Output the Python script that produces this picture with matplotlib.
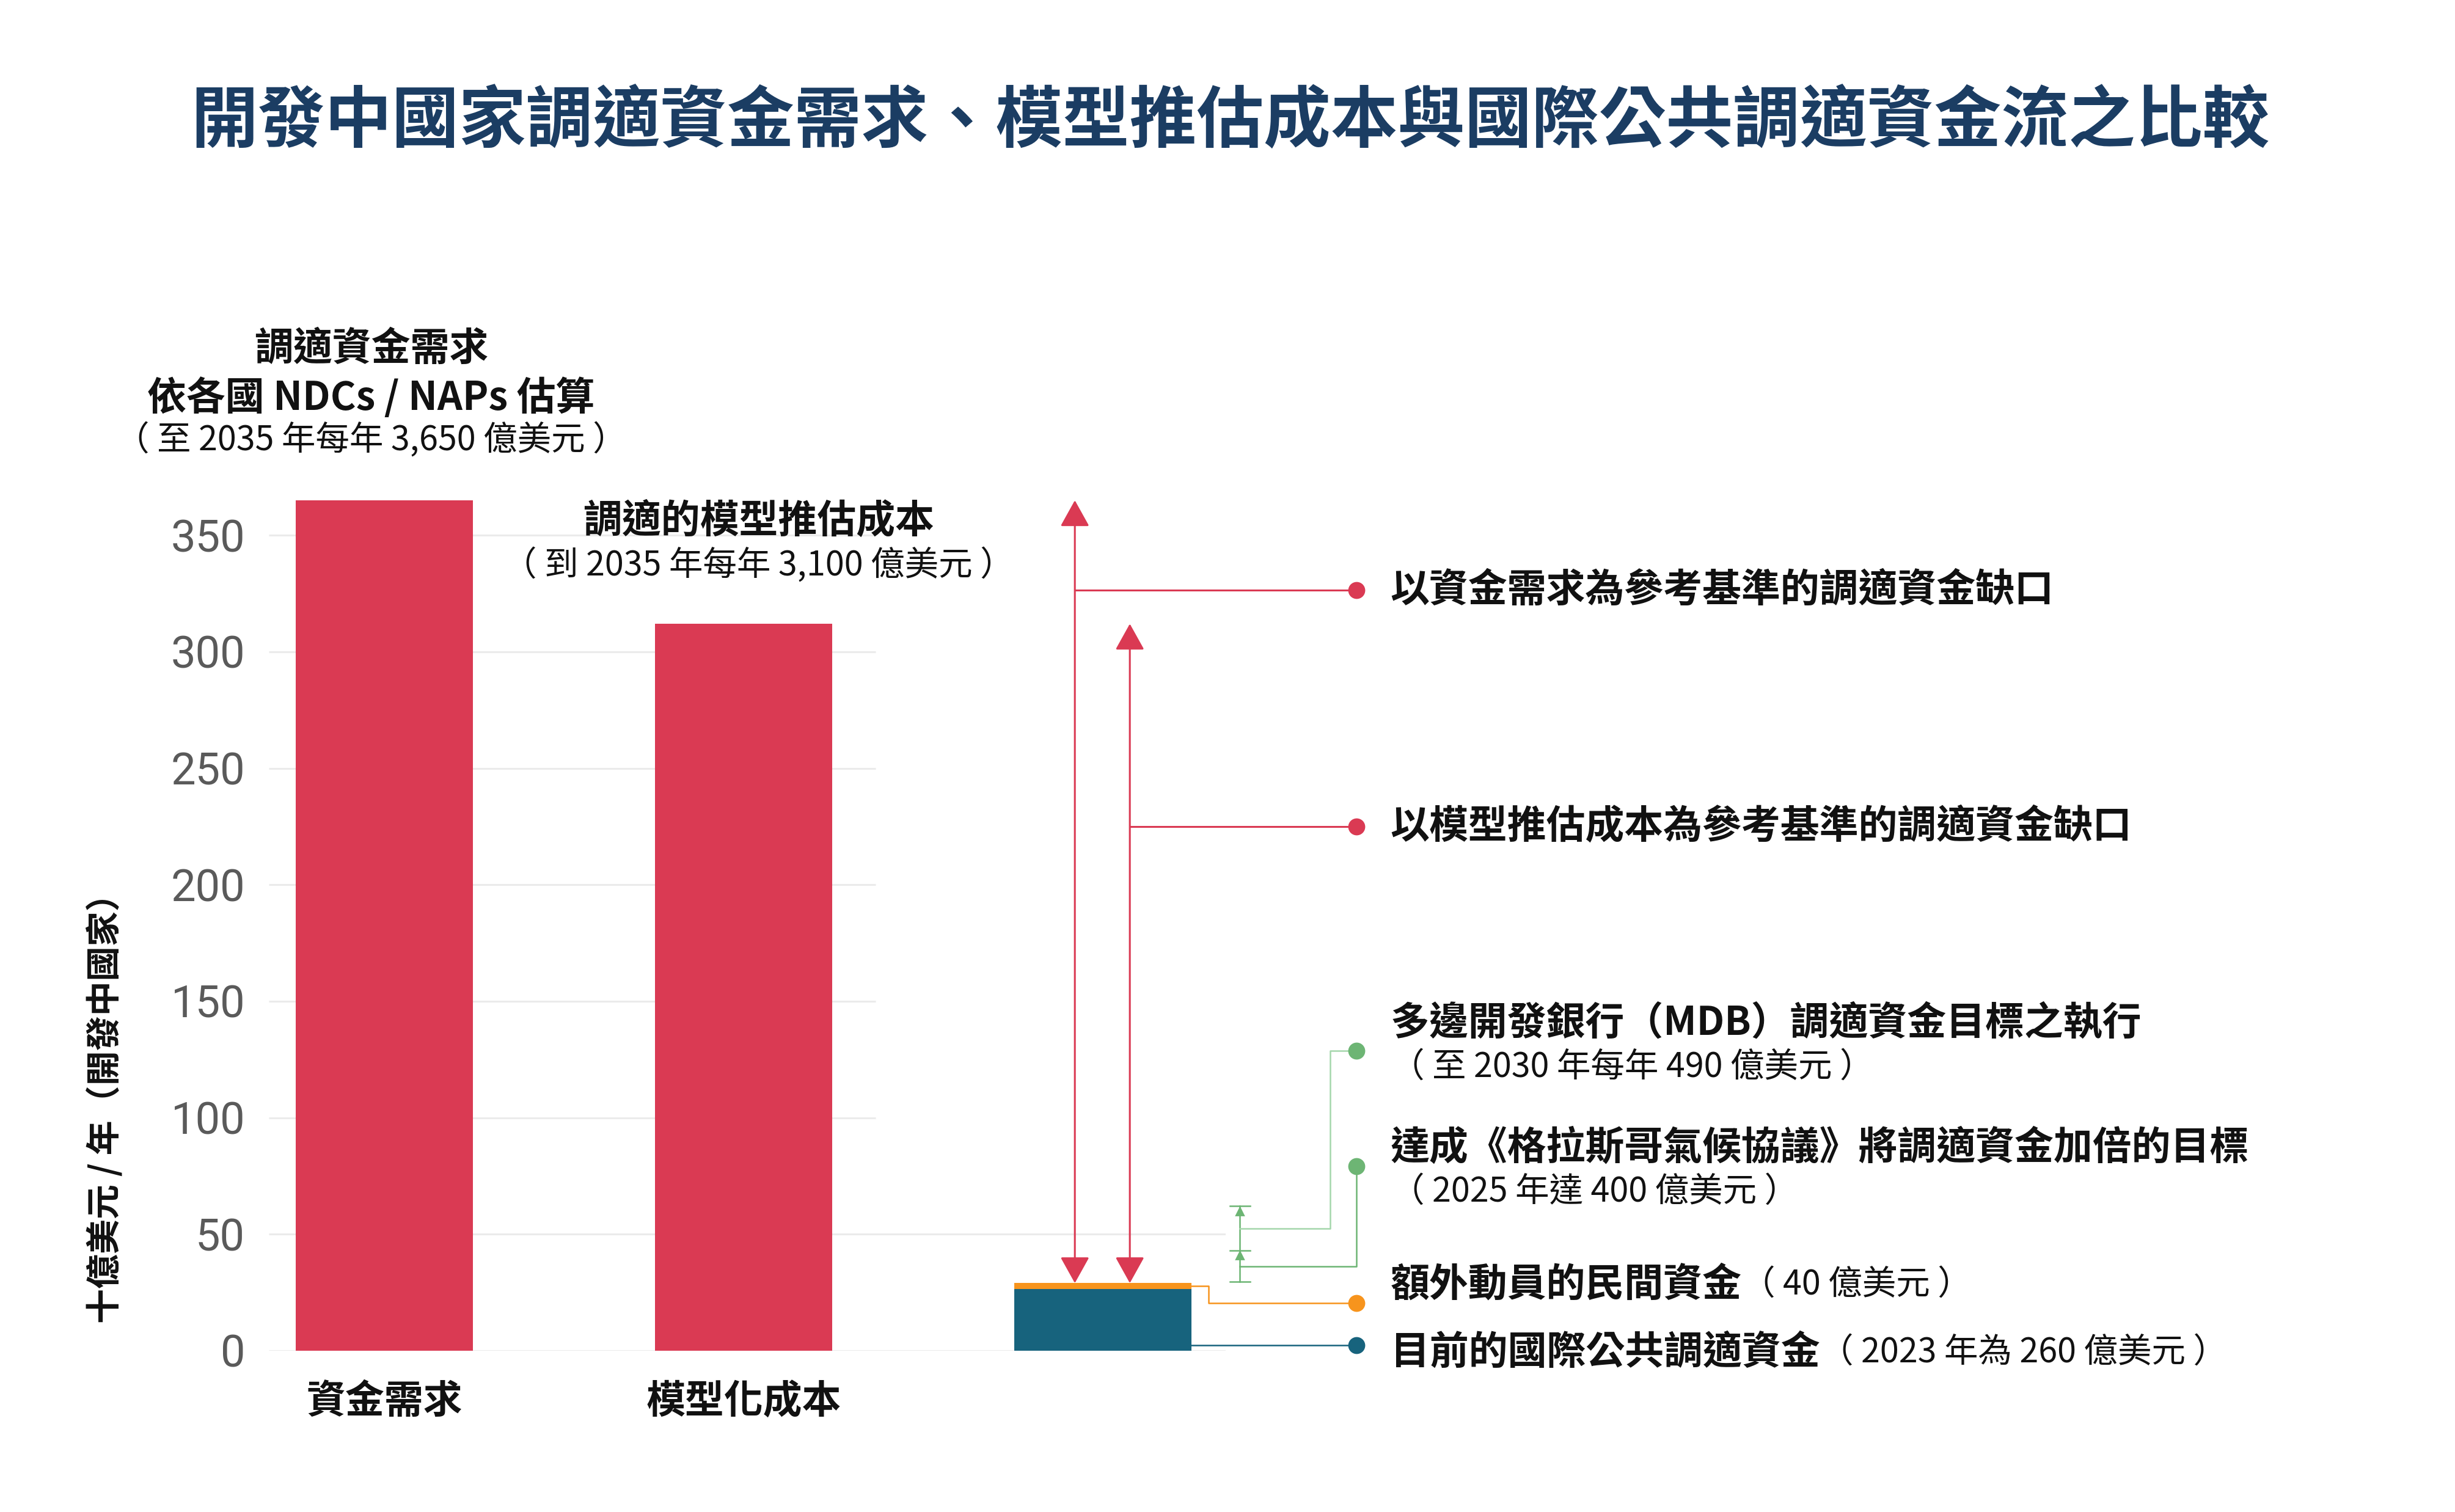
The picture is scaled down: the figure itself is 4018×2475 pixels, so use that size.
import matplotlib
matplotlib.use("Agg")
import matplotlib.pyplot as plt
import numpy as np

plt.rcParams['font.family'] = ['Noto Sans CJK TC', 'DejaVu Sans']

# data (十億美元 / 年)
categories = ["資金需求", "模型化成本", ""]
need_vals = [365, 312]           # 調適資金需求, 模型推估成本
public_flow = 26.5               # 目前的國際公共調適資金
private_flow = 2.5               # 額外動員的民間資金
bracket_levels = [29.5, 43, 62]  # 格拉斯哥 / MDB 目標區間
yticks = [0, 50, 100, 150, 200, 250, 300, 350]

red = '#DA3A53'
teal = '#17637D'
orange = '#F7941D'
green = '#6DB574'
green_lt = '#A5D7AC'
grid_c = '#EBEBEB'
txt = '#111111'
SUB = 20  # size of the regular (parenthesis) lines

fig = plt.figure(figsize=(20.09, 12.375), dpi=200)
ax = fig.add_axes([0.1095, 0.1067, 0.3898, 0.5701])
ax.set_xlim(-0.321, 2.342)
ax.set_ylim(0, 370)

# gridlines (upper ones stop after the second bar)
for t in yticks:
    xe = 2.342 if t <= 50 else 1.367
    ax.hlines(t, -0.321, xe, color=grid_c, lw=1.1, zorder=0)

x = np.arange(3)
w = 0.493
ax.bar(x[:2], need_vals, width=w, color=red, zorder=2)
ax.bar(x[2], public_flow, width=w, color=teal, zorder=2)
ax.bar(x[2], private_flow, width=w, bottom=public_flow, color=orange, zorder=2)
stack_top = public_flow + private_flow

ax.set_xticks(x)
ax.set_xticklabels(categories, fontsize=23, weight='bold', color=txt)
ax.set_yticks(yticks)
ax.set_yticklabels([str(t) for t in yticks], fontsize=26, family='Roboto', color='#5a5a5a')
ax.tick_params(axis='y', length=0, pad=14)
ax.tick_params(axis='x', length=0, pad=18)
for s in ax.spines.values():
    s.set_visible(False)

fig.text(172 / 4018, 1 - 1800 / 2475, "十億美元 / 年（開發中國家）", rotation=90,
         ha='center', va='center', fontsize=20.5, weight='bold', color=txt)

fig.text(2013 / 4018, 1 - 200 / 2475,
         "開發中國家調適資金需求、模型推估成本與國際公共調適資金流之比較",
         ha='center', va='center', fontsize=39.5, weight='bold', color='#1B3D63')

# annotations above bars
ax.text(-0.036, 430, "調適資金需求", ha='center', va='center', fontsize=23, weight='bold', color=txt)
ax.text(-0.036, 409, "依各國 NDCs / NAPs 估算", ha='center', va='center', fontsize=23, weight='bold', color=txt)
ax.text(-0.036, 390.5, "（ 至 2035 年每年 3,650 億美元 ）", ha='center', va='center', fontsize=SUB, color=txt)
ax.text(1.042, 356, "調適的模型推估成本", ha='center', va='center', fontsize=23, weight='bold', color=txt)
ax.text(1.042, 336.7, "（ 到 2035 年每年 3,100 億美元 ）", ha='center', va='center', fontsize=SUB, color=txt)

# gap arrows
dot_x = 2.705
text_x = 2.80
arrow_x = [1.922, 2.075]
gap_y = [326.5, 225]
for ax_x, top, gy in zip(arrow_x, need_vals, gap_y):
    ax.annotate('', xy=(ax_x, top), xytext=(ax_x, stack_top),
                arrowprops=dict(arrowstyle='<|-|>,head_length=0.45,head_width=0.25',
                                color=red, lw=1.1, mutation_scale=30,
                                shrinkA=0, shrinkB=0),
                annotation_clip=False)
    ax.plot([ax_x, dot_x], [gy, gy], color=red, lw=1.1, clip_on=False)
    ax.plot(dot_x, gy, 'o', color=red, ms=9, clip_on=False)

ax.text(text_x, gap_y[0], "以資金需求為參考基準的調適資金缺口", va='center', fontsize=23, weight='bold', color=txt)
ax.text(text_x, gap_y[1], "以模型推估成本為參考基準的調適資金缺口", va='center', fontsize=23, weight='bold', color=txt)

# green bracket for targets
bx = 2.381
cap = 0.028
ax.plot([bx, bx], [bracket_levels[0], bracket_levels[2]], color=green, lw=0.9, clip_on=False)
for lv in bracket_levels:
    ax.plot([bx - cap, bx + cap], [lv, lv], color=green, lw=0.9, clip_on=False)
for lv in bracket_levels[1:]:
    ax.plot(bx, lv - 2.2, marker='^', color=green, ms=4, clip_on=False)

mid_lo = (bracket_levels[0] + bracket_levels[1]) / 2
mid_hi = (bracket_levels[1] + bracket_levels[2]) / 2
mdb_dot = 128.8
glas_dot = 79.2
ax.plot([bx, 2.633, 2.633, dot_x], [mid_hi, mid_hi, mdb_dot, mdb_dot], color=green_lt, lw=0.9, clip_on=False)
ax.plot(dot_x, mdb_dot, 'o', color=green, ms=9, clip_on=False)
ax.plot([bx, dot_x, dot_x], [mid_lo, mid_lo, glas_dot], color=green, lw=0.9, clip_on=False)
ax.plot(dot_x, glas_dot, 'o', color=green, ms=9, clip_on=False)

ax.text(text_x, 140.3, "多邊開發銀行（MDB）調適資金目標之執行", va='center', fontsize=23, weight='bold', color=txt)
ax.text(text_x, 121.7, "（ 至 2030 年每年 490 億美元 ）", va='center', fontsize=SUB, color=txt)
ax.text(text_x, 87, "達成《格拉斯哥氣候協議》將調適資金加倍的目標", va='center', fontsize=23, weight='bold', color=txt)
ax.text(text_x, 68.2, "（ 2025 年達 400 億美元 ）", va='center', fontsize=SUB, color=txt)

# private and public flow leaders
bar_r = 2 + w / 2
orange_y = public_flow + private_flow / 2
priv_dot = 20.5
pub_dot = 2.4
ax.plot([bar_r, 2.294, 2.294, dot_x], [orange_y, orange_y, priv_dot, priv_dot], color=orange, lw=0.9, clip_on=False)
ax.plot(dot_x, priv_dot, 'o', color=orange, ms=9, clip_on=False)
ax.plot([bar_r, dot_x], [pub_dot, pub_dot], color=teal, lw=0.9, clip_on=False)
ax.plot(dot_x, pub_dot, 'o', color=teal, ms=9, clip_on=False)

t1 = ax.text(text_x, 28.3, "額外動員的民間資金", va='center', fontsize=23, weight='bold', color=txt)
ax.annotate("（ 40 億美元 ）", xy=(1, 0.5), xycoords=t1, va='center', fontsize=SUB, color=txt)
t2 = ax.text(text_x, -0.8, "目前的國際公共調適資金", va='center', fontsize=23, weight='bold', color=txt)
ax.annotate("（ 2023 年為 260 億美元 ）", xy=(1, 0.5), xycoords=t2, va='center', fontsize=SUB, color=txt)

fig.savefig("out.png", dpi=200, facecolor='white')
